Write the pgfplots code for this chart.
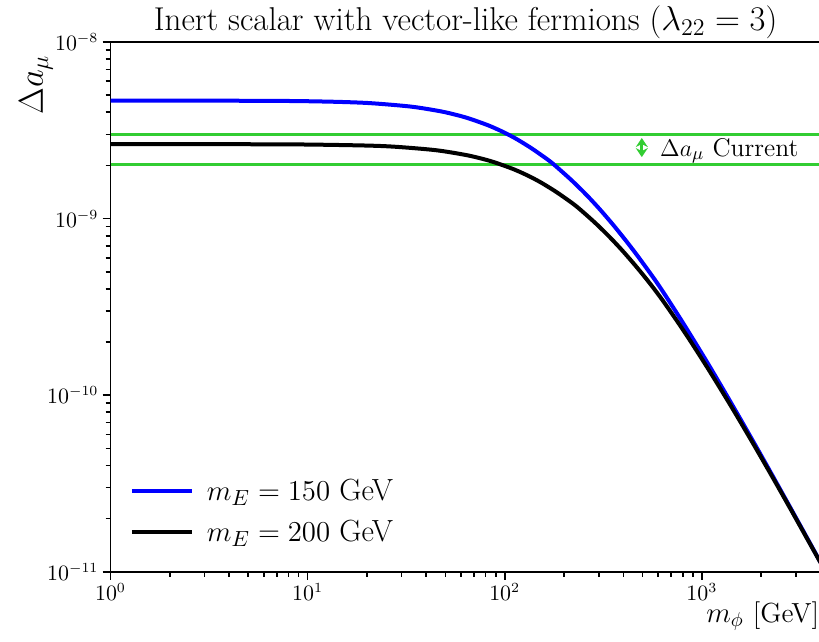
\documentclass[border=0pt]{standalone}
\usepackage{pgfplots}
\usepackage{pgfplotstable}
\pgfplotsset{compat=1.18}
\usetikzlibrary{arrows.meta}
\definecolor{lgreen}{RGB}{50,205,50}
\pgfplotstableread{
m da
1 4.660e-9
3 4.656e-9
7 4.640e-9
10 4.621e-9
15 4.575e-9
21.21 4.500e-9
33.54 4.306e-9
47.43 4.049e-9
58.09 3.842e-9
67.08 3.666e-9
82.16 3.380e-9
94.87 3.151e-9
106.07 2.962e-9
116.19 2.800e-9
134.16 2.537e-9
150 2.330e-9
171.03 2.096e-9
195.58 1.842e-9
222.49 1.616e-9
259.81 1.362e-9
300 1.146e-9
351.78 9.328e-10
410.79 7.530e-10
474.34 6.104e-10
580.95 4.465e-10
670.82 3.510e-10
821.58 2.461e-10
1060.66 1.545e-10
1341.64 9.908e-11
1710.26 6.195e-11
2121.32 4.052e-11
2806.24 2.316e-11
3000 2.024e-11
3354.1 1.616e-11
4000 1.130e-11
}\blue
\pgfplotstableread{
m da
1 2.640e-9
5 2.637e-9
10 2.627e-9
20 2.592e-9
28.28 2.549e-9
44.72 2.440e-9
63.25 2.294e-9
77.46 2.177e-9
89.44 2.077e-9
109.54 1.915e-9
126.49 1.785e-9
141.42 1.678e-9
154.92 1.586e-9
178.89 1.437e-9
200 1.320e-9
228.04 1.187e-9
260.77 1.044e-9
296.65 9.157e-10
346.41 7.714e-10
400 6.491e-10
469.04 5.284e-10
547.72 4.266e-10
632.46 3.446e-10
774.60 2.487e-10
894.43 1.951e-10
1095.45 1.367e-10
1414.21 8.581e-11
1788.85 5.507e-11
2280.35 3.442e-11
2828.43 2.251e-11
3741.66 1.287e-11
4000 1.125e-11
}\black
\begin{document}
\begin{tikzpicture}
\begin{axis}[
  xmode=log, ymode=log,
  scale only axis,
  width=354.99pt, height=264.85pt,
  xmin=1, xmax=4000, ymin=1e-11, ymax=1e-8,
  xtick={1,10,100,1000}, ytick={1e-11,1e-10,1e-9,1e-8},
  minor xtick={2,3,4,5,6,7,8,9,20,30,40,50,60,70,80,90,200,300,400,500,600,700,800,900,2000,3000,4000},
  minor ytick={2e-11,3e-11,4e-11,5e-11,6e-11,7e-11,8e-11,9e-11,2e-10,3e-10,4e-10,5e-10,6e-10,7e-10,8e-10,9e-10,2e-9,3e-9,4e-9,5e-9,6e-9,7e-9,8e-9,9e-9},
  tick pos=left,
  tick align=outside,
  major tick length=4pt, minor tick length=2.5pt,
  tick style={black, line width=0.8pt},
  axis line style={line width=0.8pt},
  tick label style={font=\fontsize{10.5}{12}\selectfont},
  xticklabel style={yshift=1.5pt},
  yticklabel style={xshift=1.5pt},
  legend style={draw=none, fill=none, at={(0,0)}, anchor=south west, xshift=6.5pt, yshift=9.5pt,
    font=\fontsize{15.3}{18}\selectfont, column sep=4.5pt, row sep=4.2pt},
  legend cell align=left,
  legend image code/.code={\draw[#1] (0pt,0pt) -- (30pt,0pt);},
]
\addplot[lgreen, line width=1.8pt, forget plot] coordinates {(1,3.0e-9) (4000,3.0e-9)};
\addplot[lgreen, line width=1.8pt, forget plot] coordinates {(1,2.03e-9) (4000,2.03e-9)};
\addplot[blue, line width=2pt, smooth] table[x=m, y=da] {\blue};
\addlegendentry{$m_E = 150$ GeV}
\addplot[black, line width=2pt, smooth] table[x=m, y=da] {\black};
\addlegendentry{$m_E = 200$ GeV}
\draw[{Stealth[length=4.5pt,width=6pt]}-{Stealth[length=4.5pt,width=6pt]}, lgreen, line width=1.4pt] (axis cs:496,2.86e-9) -- (axis cs:496,2.23e-9);
\node[anchor=base west, inner sep=0pt, font=\fontsize{12.8}{15}\selectfont] at (axis cs:612,2.26e-9) {$\Delta a_\mu$ Current};
\coordinate (SW) at (rel axis cs:0,0);
\coordinate (N) at (rel axis cs:0.5,1);
\coordinate (SE) at (rel axis cs:1,0);
\coordinate (NE) at (rel axis cs:1,1);
\end{axis}
\node[anchor=base, inner sep=0pt, font=\fontsize{16.5}{19}\selectfont] at ([yshift=6pt]N) {Inert scalar with vector-like fermions ($\lambda_{22} = 3$)};
\path (SW) ++(-37.25pt,243.5pt) node[rotate=90, inner sep=0pt, font=\fontsize{16.5}{19}\selectfont] {$\Delta a_\mu$};
\node[anchor=base east, inner sep=0pt, font=\fontsize{13.8}{16}\selectfont] at ([xshift=-0.5pt,yshift=-25.3pt]SE) {$m_\phi$ [GeV]};
\pgfresetboundingbox
\useasboundingbox ([xshift=-55.25pt,yshift=-34.65pt]SW) rectangle ([xshift=-0.75pt,yshift=21pt]NE);
\end{tikzpicture}
\end{document}
